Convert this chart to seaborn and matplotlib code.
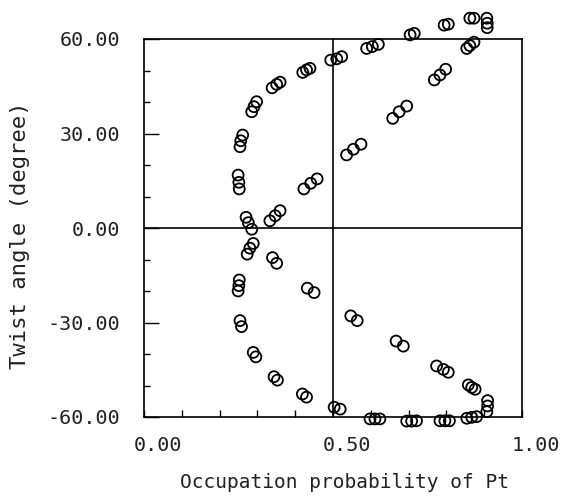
import matplotlib
matplotlib.use("Agg")
import matplotlib.pyplot as plt
import matplotlib.transforms as mtransforms
from matplotlib.ticker import MultipleLocator, FixedLocator
import seaborn as sns
import pandas as pd

# Occupation probability of Pt (x) and twist angle in degrees (y)
occupation = [
    0.907, 0.908, 0.908, 0.862, 0.873, 0.794, 0.805, 0.704, 0.715,
    0.589, 0.604, 0.620, 0.494, 0.510, 0.523, 0.420, 0.430, 0.439,
    0.339, 0.351, 0.360, 0.285, 0.291, 0.298, 0.254, 0.256, 0.261,
    0.249, 0.251, 0.252, 0.270, 0.276, 0.285, 0.289, 0.280, 0.273,
    0.252, 0.251, 0.249, 0.254, 0.258, 0.289, 0.296, 0.344, 0.353,
    0.419, 0.430, 0.503, 0.519, 0.598, 0.611, 0.624, 0.695, 0.708,
    0.721, 0.783, 0.796, 0.808, 0.854, 0.867, 0.880, 0.909, 0.909,
    0.907, 0.858, 0.867, 0.876, 0.774, 0.792, 0.805, 0.667, 0.686,
    0.547, 0.564, 0.340, 0.351, 0.432, 0.450, 0.333, 0.347, 0.360,
    0.423, 0.441, 0.458, 0.536, 0.554, 0.574, 0.658, 0.675, 0.695,
    0.768, 0.783, 0.798, 0.854, 0.862, 0.873,
]
twist = [
    66.6, 65.0, 63.6, 66.6, 66.6, 64.4, 64.7, 61.3, 61.8,
    57.0, 57.6, 58.3, 53.3, 53.7, 54.4, 49.4, 50.2, 50.7,
    44.5, 45.6, 46.3, 36.9, 38.5, 40.1, 25.8, 27.7, 29.5,
    16.8, 14.5, 12.4, 3.4, 1.7, -0.4, -4.9, -6.4, -8.3,
    -16.5, -18.3, -20.0, -29.4, -31.3, -39.5, -40.9, -47.2, -48.3,
    -52.7, -53.7, -56.9, -57.5, -60.6, -60.6, -60.6, -61.3, -61.3,
    -61.2, -61.2, -61.2, -61.2, -60.4, -60.1, -59.9, -54.8, -56.5,
    -58.3, -49.8, -50.6, -51.2, -43.8, -44.9, -45.8, -35.9, -37.5,
    -27.9, -29.4, -9.4, -11.2, -19.1, -20.5, 2.3, 3.9, 5.5,
    12.4, 14.2, 15.6, 23.2, 25.0, 26.6, 34.8, 36.9, 38.7,
    47.0, 48.6, 50.4, 57.0, 57.9, 59.0,
]
x_ticks = [0.0, 0.5, 1.0]
x_tick_labels = ["0.00", "0.50", "1.00"]
y_ticks = [-60, -30, 0, 30, 60]
y_tick_labels = ["-60.00", "-30.00", "0.00", "30.00", "60.00"]
x_label = "Occupation probability of Pt"
y_label = "Twist angle (degree)"

df = pd.DataFrame({"occ": occupation, "twist": twist})

sns.set_theme(style="white")
plt.rcParams["font.family"] = ["DejaVu Sans Mono", "DejaVu Sans"]

fig = plt.figure(figsize=(5.63, 5.01), dpi=100)
ax = fig.add_axes([144 / 563, 1 - 417 / 501, 378 / 563, 378 / 501])

ax.axvline(0.5, color="black", lw=1.2, zorder=1)
ax.axhline(0.0, color="black", lw=1.2, zorder=1)

sns.scatterplot(data=df, x="occ", y="twist", ax=ax, marker="o", s=62,
                facecolor="none", edgecolor="black", linewidth=1.3,
                clip_on=False, zorder=3, legend=False)

ax.set_xlim(0, 1)
ax.set_ylim(-60, 60)
ax.xaxis.set_major_locator(FixedLocator(x_ticks))
ax.set_xticklabels(x_tick_labels)
ax.yaxis.set_major_locator(FixedLocator(y_ticks))
ax.set_yticklabels(y_tick_labels)
ax.xaxis.set_minor_locator(MultipleLocator(0.1))
ax.yaxis.set_minor_locator(MultipleLocator(10))

for sp in ax.spines.values():
    sp.set_color("black")
    sp.set_linewidth(1.2)

ax.tick_params(axis="both", which="both", direction="in", color="black",
               left=True, bottom=True, top=False, right=False,
               labelsize=14.5, labelcolor="#222222")
ax.tick_params(axis="y", which="major", length=11, width=1.0, pad=17)
ax.tick_params(axis="y", which="minor", length=4.5, width=1.0)
ax.tick_params(axis="x", which="major", length=5, width=1.0, pad=14)
ax.tick_params(axis="x", which="minor", length=5, width=1.0)

offset = mtransforms.ScaledTranslation(10 / 72, 0, fig.dpi_scale_trans)
for lab in ax.get_xticklabels():
    lab.set_transform(lab.get_transform() + offset)

ax.set_xlabel(x_label, fontsize=14, color="#222222")
ax.xaxis.set_label_coords((344 - 144) / 378, -(483 - 417) / 378)
ax.xaxis.label.set_va("center")
ax.set_ylabel(y_label, fontsize=16, color="#222222")
ax.yaxis.set_label_coords(-(144 - 20) / 378, (417 - 235) / 378)
ax.yaxis.label.set_va("center")

fig.savefig("out.png", dpi=100, facecolor="white")
